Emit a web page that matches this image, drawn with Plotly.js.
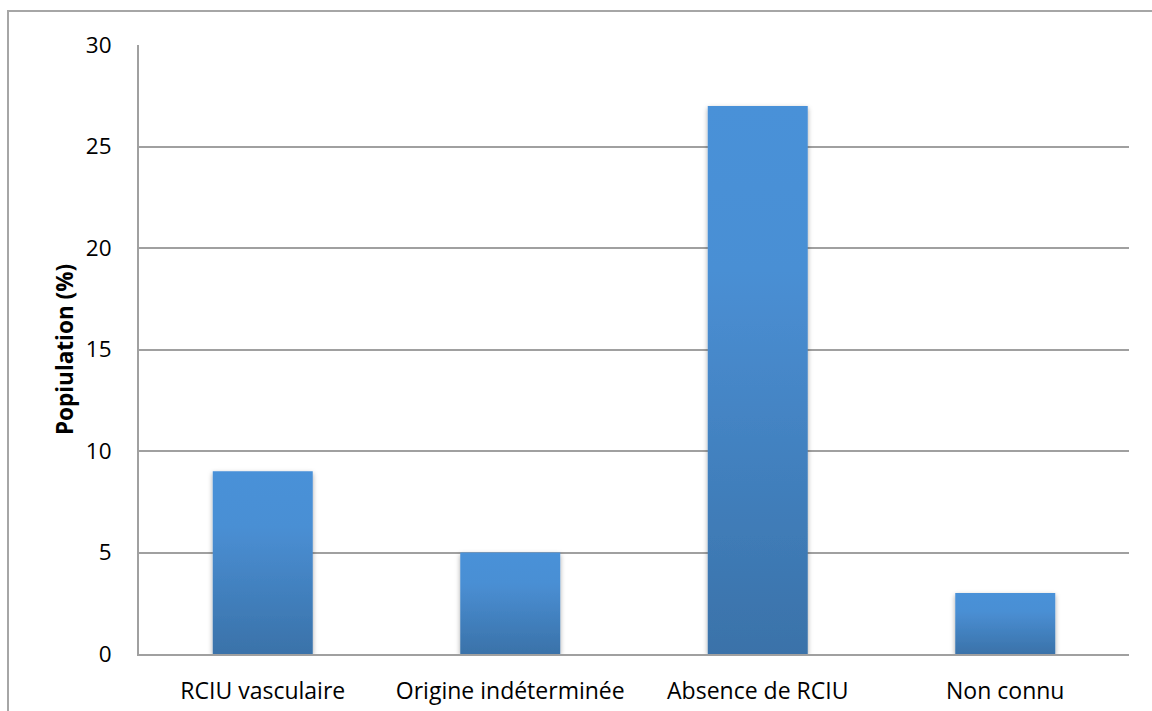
<!DOCTYPE html>
<html><head><meta charset="utf-8">
<script src="https://cdn.plot.ly/plotly-3.0.1.min.js"></script>
<style>
html,body{margin:0;padding:0;background:#fff;overflow:hidden;}
#frame{position:absolute;left:7px;top:10px;width:2000px;height:2000px;border-left:2px solid #a6a6a6;border-top:2px solid #a6a6a6;box-sizing:border-box;}
#chart{position:absolute;left:0;top:0;width:1152px;height:711px;}
</style></head>
<body>
<div id="frame"></div>
<div id="chart"></div>
<script>
const categories = ["RCIU vasculaire", "Origine indéterminée", "Absence de RCIU", "Non connu"];
const values = [9, 5, 27, 3];
const yTicks = [0, 5, 10, 15, 20, 25, 30];
const yTitle = "Popiulation (%)";

const font = "Open Sans, Noto Sans, sans-serif";
Plotly.newPlot("chart", [{
  type: "bar",
  x: categories,
  y: values,
  width: 0.404,
  marker: {color: "#4282c4", line: {width: 0}},
  hoverinfo: "none"
}], {
  width: 1152, height: 711,
  margin: {l: 139, r: 23, t: 45, b: 57},
  paper_bgcolor: "rgba(0,0,0,0)",
  plot_bgcolor: "rgba(0,0,0,0)",
  showlegend: false,
  bargap: 0.6,
  xaxis: {
    showgrid: false, zeroline: false,
    showline: true, linecolor: "#a0a0a0", linewidth: 2,
    ticks: "", ticklabelstandoff: 15,
    tickfont: {family: font, size: 23, color: "#000"}
  },
  yaxis: {
    range: [0, 30], tickvals: yTicks,
    showgrid: true, gridcolor: "#a0a0a0", gridwidth: 2,
    zeroline: false, showline: true, linecolor: "#a0a0a0", linewidth: 2,
    ticks: "", ticklabelstandoff: 21,
    tickfont: {family: font, size: 22.5, color: "#000"},
    title: {text: yTitle, standoff: 6, font: {family: font, size: 22.5, color: "#000", weight: "bold"}}
  }
}, {staticPlot: true}).then(gd => {
  const svg = gd.querySelector("svg.main-svg");
  const ns = "http://www.w3.org/2000/svg";
  let defs = svg.querySelector("defs");
  const lg = document.createElementNS(ns, "linearGradient");
  lg.setAttribute("id", "barGrad");
  lg.setAttribute("x1", "0"); lg.setAttribute("y1", "0");
  lg.setAttribute("x2", "0"); lg.setAttribute("y2", "1");
  [["0", "#4a91d8"], ["0.3", "#4a8fd4"], ["1", "#3a72a9"]].forEach(([o, c]) => {
    const s = document.createElementNS(ns, "stop");
    s.setAttribute("offset", o); s.setAttribute("stop-color", c);
    lg.appendChild(s);
  });
  defs.appendChild(lg);
  const f = document.createElementNS(ns, "filter");
  f.setAttribute("id", "barShadow");
  f.setAttribute("x", "-10%"); f.setAttribute("y", "-10%");
  f.setAttribute("width", "120%"); f.setAttribute("height", "120%");
  f.innerHTML = '<feDropShadow dx="0" dy="2" stdDeviation="2.5" flood-color="#000" flood-opacity="0.35"/>';
  defs.appendChild(f);
  gd.querySelectorAll(".bars .point path").forEach(p => {
    p.style.fill = "url(#barGrad)";
    p.setAttribute("filter", "url(#barShadow)");
  });
});
</script>
</body></html>
